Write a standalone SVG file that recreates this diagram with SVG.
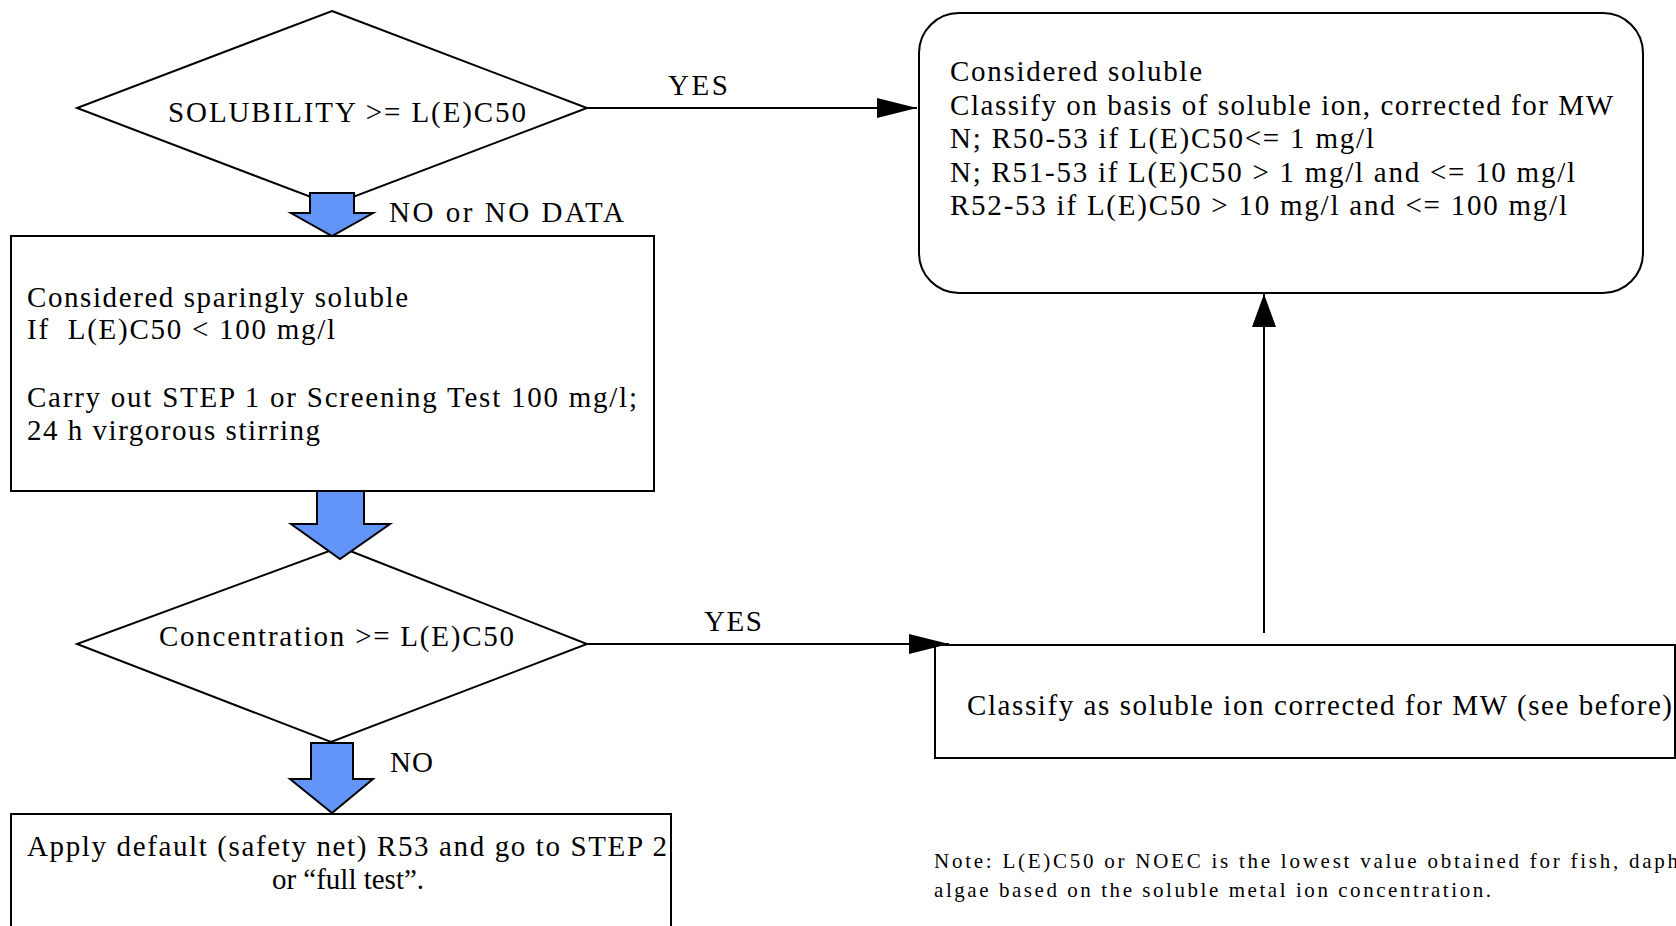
<svg xmlns="http://www.w3.org/2000/svg" width="1676" height="926" viewBox="0 0 1676 926">
  <style>
    .shape { fill: #ffffff; stroke: #000000; stroke-width: 2; }
    .block { fill: #6394f8; stroke: #000000; stroke-width: 2; stroke-linejoin: miter; }
    .conn { fill: none; stroke: #000000; stroke-width: 2; }
    .t { font-family: "Liberation Serif", "Times New Roman", serif; font-size: 29px; fill: #000000; }
    .note { font-family: "Liberation Serif", "Times New Roman", serif; font-size: 21px; fill: #000000; }
  </style>
  <defs>
    <marker id="arrowH" markerUnits="userSpaceOnUse" markerWidth="40" markerHeight="20" refX="40" refY="10" orient="auto">
      <path d="M0,0 L40,10 L0,20 Z" fill="#000000"/>
    </marker>
    <marker id="arrowV" markerUnits="userSpaceOnUse" markerWidth="33" markerHeight="24" refX="33" refY="12" orient="auto">
      <path d="M0,0 L33,12 L0,24 Z" fill="#000000"/>
    </marker>
  </defs>

  <rect width="1676" height="926" fill="#ffffff"/>

  <!-- decision: solubility -->
  <g id="decision-solubility">
    <polygon class="shape" points="332,11 587,108 332,205 77,108"/>
    <text class="t" x="168" y="122" textLength="358">SOLUBILITY &gt;= L(E)C50</text>
  </g>

  <!-- outcome: soluble -->
  <g id="box-soluble">
    <rect class="shape" x="919" y="13" width="724" height="280" rx="40" ry="40"/>
    <text class="t" x="950" y="81" textLength="252">Considered soluble</text>
    <text class="t" x="950" y="114.5" textLength="663">Classify on basis of soluble ion, corrected for MW</text>
    <text class="t" x="950" y="148" textLength="424">N; R50-53 if L(E)C50&lt;= 1 mg/l</text>
    <text class="t" x="950" y="181.5" textLength="625">N; R51-53 if L(E)C50 &gt; 1 mg/l and &lt;= 10 mg/l</text>
    <text class="t" x="950" y="215" textLength="617">R52-53 if L(E)C50 &gt; 10 mg/l and &lt;= 100 mg/l</text>
  </g>

  <!-- outcome: sparingly soluble -->
  <g id="box-sparingly">
    <rect class="shape" x="11" y="236" width="643" height="255"/>
    <text class="t" x="27" y="307" textLength="381">Considered sparingly soluble</text>
    <text class="t" x="27" y="339" textLength="308" xml:space="preserve">If  L(E)C50 &lt; 100 mg/l</text>
    <text class="t" x="27" y="407" textLength="610">Carry out STEP 1 or Screening Test 100 mg/l;</text>
    <text class="t" x="27" y="440" textLength="293">24 h virgorous stirring</text>
  </g>

  <!-- decision: concentration -->
  <g id="decision-concentration">
    <polygon class="shape" points="340,547 587,644 331,742 77,644"/>
    <text class="t" x="159" y="646" textLength="355">Concentration &gt;= L(E)C50</text>
  </g>

  <!-- outcome: classify as soluble ion -->
  <g id="box-classify">
    <rect class="shape" x="935" y="645" width="740" height="113"/>
    <text class="t" x="967" y="715" textLength="705">Classify as soluble ion corrected for MW (see before)</text>
  </g>

  <!-- outcome: safety net -->
  <g id="box-safety-net">
    <rect class="shape" x="11" y="814" width="660" height="140"/>
    <text class="t" x="27" y="856" textLength="640">Apply default (safety net) R53 and go to STEP 2</text>
    <text class="t" x="348" y="889" text-anchor="middle">or “full test”.</text>
  </g>

  <!-- footnote -->
  <g id="note">
    <text class="note" x="934" y="868" textLength="744">Note: L(E)C50 or NOEC is the lowest value obtained for fish, daph</text>
    <text class="note" x="934" y="897" textLength="557">algae based on the soluble metal ion concentration.</text>
  </g>

  <!-- connectors -->
  <g id="connectors">
    <line class="conn" x1="587" y1="108" x2="917" y2="108" marker-end="url(#arrowH)"/>
    <line class="conn" x1="587" y1="644" x2="949" y2="644" marker-end="url(#arrowH)"/>
    <line class="conn" x1="1264" y1="633" x2="1264" y2="294" marker-end="url(#arrowV)"/>

    <!-- block arrows -->
    <polygon class="block" points="310,193 354,193 354,213 373,213 332,236 291,213 310,213"/>
    <polygon class="block" points="317,491 364,491 364,524 390,524 340,559 291,524 317,524"/>
    <polygon class="block" points="311,743 353,743 353,779 373,779 332,813 290,779 311,779"/>

    <text class="t" x="668" y="95" textLength="60">YES</text>
    <text class="t" x="389" y="222" textLength="235">NO or NO DATA</text>
    <text class="t" x="704" y="631" textLength="58">YES</text>
    <text class="t" x="390" y="772" textLength="43">NO</text>
  </g>
</svg>
